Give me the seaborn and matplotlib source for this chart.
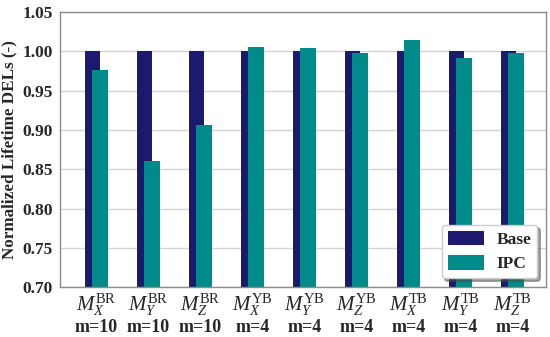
import pandas as pd
import numpy as np
import seaborn as sns
import matplotlib.pyplot as plt

# moment labels and IPC results (normalized by base)
moments = [r'$M_X^{\mathrm{BR}}$', r'$M_Y^{\mathrm{BR}}$', r'$M_Z^{\mathrm{BR}}$',
           r'$M_X^{\mathrm{YB}}$', r'$M_Y^{\mathrm{YB}}$', r'$M_Z^{\mathrm{YB}}$',
           r'$M_X^{\mathrm{TB}}$', r'$M_Y^{\mathrm{TB}}$', r'$M_Z^{\mathrm{TB}}$']
orders = ['m=10', 'm=10', 'm=10', 'm=4', 'm=4', 'm=4', 'm=4', 'm=4', 'm=4']
base = [1.0, 1.0, 1.0, 1.0, 1.0, 1.0, 1.0, 1.0, 1.0]
ipc = [0.976, 0.860, 0.906, 1.005, 1.004, 0.998, 1.015, 0.991, 0.998]

df = pd.DataFrame({
    'moment': moments * 2,
    'value': base + ipc,
    'series': ['Base'] * len(base) + ['IPC'] * len(ipc),
})

sns.set_style('whitegrid')
plt.rcParams['font.family'] = ['Liberation Serif', 'DejaVu Serif']
plt.rcParams['mathtext.fontset'] = 'custom'
plt.rcParams['mathtext.rm'] = 'Liberation Serif'
plt.rcParams['mathtext.it'] = 'Liberation Serif:italic'
plt.rcParams['mathtext.bf'] = 'Liberation Serif:bold'

fig = plt.figure(figsize=(5.5, 3.37), dpi=100)
ax = fig.add_axes([0.109, 0.148, 0.884, 0.816])

sns.barplot(data=df, x='moment', y='value', hue='series', ax=ax,
            palette=['#1c1a6e', '#008b8b'], width=0.44, dodge=True,
            saturation=1, edgecolor='none')

# make the two bars of a group overlap like the original
for cont, grow, shift in zip(ax.containers, [1.32, 1.36], [0.0, -0.36]):
    for p in cont.patches:
        w = p.get_width()
        p.set_x(p.get_x() + shift * w)
        p.set_width(w * grow)

ax.set_ylim(0.70, 1.05)
ax.set_xlim(-0.70, 8.65)
ax.set_yticks(np.arange(0.70, 1.051, 0.05))
ax.set_yticklabels([f'{v:.2f}' for v in np.arange(0.70, 1.051, 0.05)],
                   fontsize=12.5, fontweight='bold')

# moment on the major ticks, model order on a second row (minor ticks)
ax.set_xticks(range(len(moments)))
ax.set_xticklabels(moments, fontsize=15)
ax.xaxis.remove_overlapping_locs = False
ax.set_xticks(range(len(orders)), minor=True)
ax.set_xticklabels(orders, minor=True, fontsize=13, fontweight='bold')
ax.tick_params(axis='x', which='major', length=0, pad=3)
ax.tick_params(axis='x', which='minor', length=0, pad=23)
ax.tick_params(axis='y', length=0, pad=5)
ax.set_xlabel('')
ax.set_ylabel('Normalized Lifetime DELs (-)', fontsize=12.3, fontweight='bold',
              labelpad=4)
ax.grid(axis='x', visible=False)
ax.grid(axis='y', which='major', color='#d4d4d4', linewidth=1)
for s in ax.spines.values():
    s.set_color('#8c8c8c')
    s.set_linewidth(1)

leg = ax.legend(loc='lower right', prop={'weight': 'bold', 'size': 12.5},
                handlelength=2.1, handleheight=0.9, handletextpad=0.7,
                fancybox=True, shadow=True, borderaxespad=0.5, borderpad=0.35,
                labelspacing=0.4, framealpha=1)
leg.set_title(None)

plt.savefig('out.png', dpi=100)
